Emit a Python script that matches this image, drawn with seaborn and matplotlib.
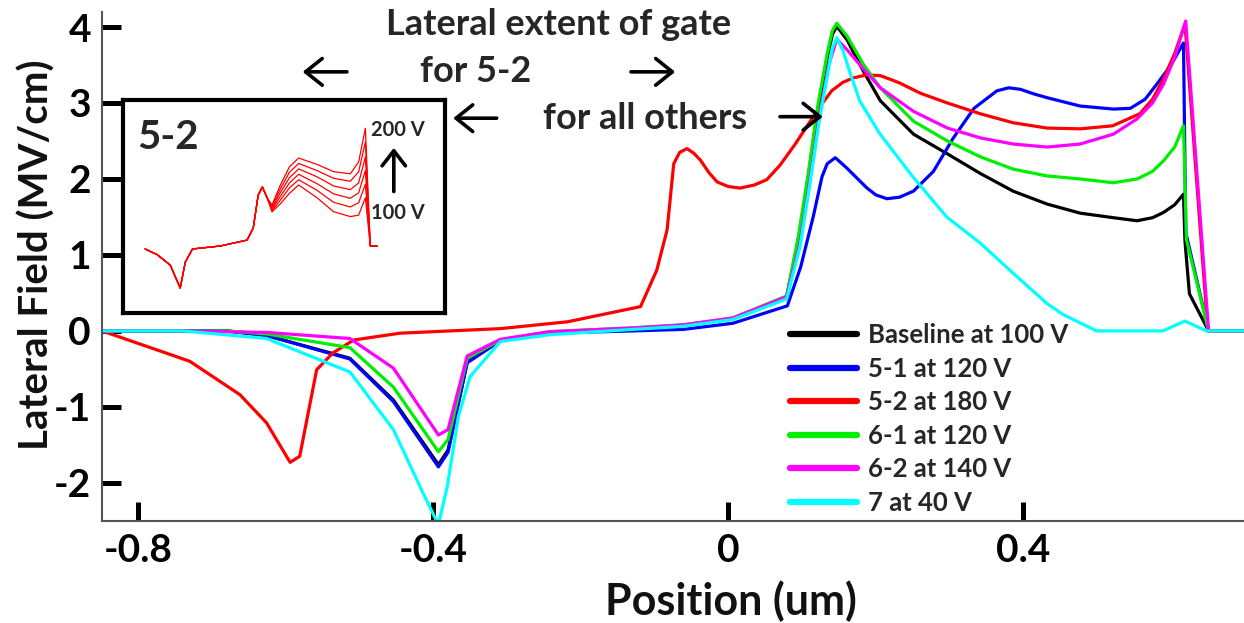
import numpy as np
import pandas as pd
import matplotlib
matplotlib.use("Agg")
import matplotlib.pyplot as plt
import seaborn as sns

# ---------------- data ----------------
series_names = ["Baseline at 100 V", "5-1 at 120 V", "5-2 at 180 V",
                "6-1 at 120 V", "6-2 at 140 V", "7 at 40 V"]
series_colors = ["#000000", "#0000ff", "#ff0000", "#00ee00", "#ff00ff", "#00ffff"]

baseline_x = [-0.849, -0.68, -0.626, -0.513, -0.454, -0.393, -0.380, -0.354, -0.309,
              -0.242, -0.129, -0.061, 0.006, 0.079, 0.095, 0.108, 0.121, 0.134, 0.141,
              0.147, 0.161, 0.183, 0.206, 0.251, 0.297, 0.342, 0.386, 0.432, 0.477,
              0.522, 0.554, 0.575, 0.590, 0.605, 0.617, 0.619, 0.625, 0.651, 0.699]
baseline_y = [0.0, 0.0, -0.06, -0.36, -0.91, -1.76, -1.57, -0.41, -0.12,
              -0.02, 0.03, 0.07, 0.16, 0.45, 1.2, 2.0, 2.9, 3.6, 3.9,
              4.01, 3.83, 3.42, 3.03, 2.59, 2.33, 2.07, 1.84, 1.67, 1.55,
              1.49, 1.45, 1.49, 1.56, 1.66, 1.80, 1.18, 0.49, 0.0, 0.0]

s51_x = [-0.849, -0.68, -0.626, -0.513, -0.454, -0.393, -0.380, -0.354, -0.309,
         -0.242, -0.129, -0.061, 0.006, 0.080, 0.098, 0.115, 0.127, 0.134, 0.145,
         0.161, 0.188, 0.200, 0.215, 0.232, 0.251, 0.278, 0.305, 0.333, 0.364,
         0.380, 0.396, 0.414, 0.432, 0.477, 0.522, 0.545, 0.565, 0.581, 0.600,
         0.617, 0.620, 0.651, 0.699]
s51_y = [0.0, 0.0, -0.06, -0.37, -0.93, -1.79, -1.60, -0.42, -0.13,
         -0.03, 0.0, 0.02, 0.10, 0.33, 0.84, 1.50, 2.03, 2.20, 2.28,
         2.14, 1.88, 1.79, 1.74, 1.76, 1.84, 2.10, 2.54, 2.93, 3.16,
         3.20, 3.18, 3.12, 3.07, 2.96, 2.92, 2.93, 3.05, 3.25, 3.50,
         3.79, 1.30, 0.0, 0.0]

s52_x = [-0.849, -0.730, -0.662, -0.626, -0.594, -0.581, -0.558, -0.536, -0.508,
         -0.445, -0.309, -0.218, -0.119, -0.097, -0.083, -0.074, -0.066, -0.056,
         -0.047, -0.038, -0.026, -0.015, 0.000, 0.016, 0.035, 0.052, 0.070, 0.090,
         0.107, 0.124, 0.140, 0.155, 0.169, 0.188, 0.206, 0.220, 0.233, 0.260,
         0.297, 0.341, 0.386, 0.432, 0.477, 0.521, 0.558, 0.575, 0.589, 0.605,
         0.619, 0.650, 0.699]
s52_y = [0.0, -0.40, -0.84, -1.21, -1.73, -1.65, -0.51, -0.29, -0.12,
         -0.03, 0.03, 0.12, 0.32, 0.80, 1.33, 2.20, 2.35, 2.40,
         2.34, 2.25, 2.08, 1.96, 1.90, 1.88, 1.92, 1.99, 2.18, 2.45,
         2.70, 2.95, 3.16, 3.27, 3.33, 3.37, 3.36, 3.31, 3.26, 3.13,
         3.00, 2.86, 2.74, 2.67, 2.66, 2.70, 2.86, 3.05, 3.30, 3.65,
         4.04, 0.0, 0.0]

s61_x = [-0.849, -0.68, -0.626, -0.513, -0.454, -0.393, -0.380, -0.354, -0.309,
         -0.242, -0.129, -0.061, 0.006, 0.079, 0.095, 0.108, 0.121, 0.134, 0.141,
         0.147, 0.161, 0.183, 0.206, 0.251, 0.297, 0.342, 0.386, 0.432, 0.477,
         0.522, 0.554, 0.575, 0.590, 0.605, 0.617, 0.621, 0.651, 0.699]
s61_y = [0.0, 0.0, -0.04, -0.22, -0.74, -1.59, -1.43, -0.36, -0.12,
         -0.01, 0.04, 0.08, 0.17, 0.46, 1.25, 2.05, 2.95, 3.65, 3.95,
         4.05, 3.88, 3.51, 3.20, 2.76, 2.50, 2.29, 2.13, 2.04, 2.00,
         1.95, 2.00, 2.10, 2.24, 2.42, 2.70, 1.20, 0.0, 0.0]

s62_x = [-0.849, -0.74, -0.626, -0.513, -0.454, -0.393, -0.380, -0.354, -0.309,
         -0.242, -0.129, -0.061, 0.006, 0.079, 0.097, 0.110, 0.123, 0.136, 0.147,
         0.161, 0.183, 0.206, 0.251, 0.297, 0.342, 0.386, 0.432, 0.477, 0.522,
         0.554, 0.575, 0.590, 0.605, 0.620, 0.651, 0.699]
s62_y = [0.0, 0.0, -0.02, -0.10, -0.49, -1.37, -1.30, -0.33, -0.11,
         -0.01, 0.04, 0.08, 0.17, 0.45, 1.15, 1.95, 2.80, 3.50, 3.84,
         3.70, 3.45, 3.20, 2.89, 2.67, 2.54, 2.46, 2.42, 2.46, 2.59,
         2.79, 3.00, 3.25, 3.60, 4.08, 0.0, 0.0]

s7_x = [-0.849, -0.74, -0.626, -0.513, -0.454, -0.414, -0.393, -0.381, -0.366,
        -0.350, -0.309, -0.242, -0.129, -0.061, 0.006, 0.079, 0.097, 0.110, 0.123,
        0.136, 0.141, 0.147, 0.155, 0.165, 0.178, 0.205, 0.250, 0.296, 0.341, 0.386,
        0.432, 0.453, 0.499, 0.589, 0.619, 0.648, 0.699]
s7_y = [0.0, 0.0, -0.10, -0.54, -1.30, -2.13, -2.55, -2.05, -1.13,
        -0.60, -0.14, -0.05, 0.02, 0.06, 0.15, 0.42, 1.10, 1.90, 2.75,
        3.45, 3.72, 3.86, 3.70, 3.40, 3.03, 2.60, 2.03, 1.50, 1.16, 0.76,
        0.36, 0.22, 0.0, 0.0, 0.13, 0.0, 0.0]

# inset: 5-2 swept from 100 V to 200 V
inset_common_x = [-0.818, -0.740, -0.655, -0.590, -0.557, -0.510, -0.330, -0.155, -0.115,
                  -0.083, -0.056, -0.024]
inset_common_y = [-0.12, -0.35, -0.77, -1.70, -0.65, -0.12, 0.0, 0.24, 0.73,
                  2.06, 2.39, 1.94]
inset_tail_x = [0.007, 0.060, 0.120, 0.180, 0.300, 0.407, 0.516, 0.570, 0.614, 0.646, 0.690]
inset_100V = [1.38, 1.70, 2.13, 2.47, 1.95, 1.39, 1.19, 1.25, 1.95, 0.0, 0.0]
inset_120V = [1.43, 1.85, 2.35, 2.68, 2.25, 1.77, 1.58, 1.75, 2.50, 0.0, 0.0]
inset_140V = [1.49, 2.00, 2.55, 2.90, 2.52, 2.11, 1.93, 2.15, 3.05, 0.0, 0.0]
inset_160V = [1.55, 2.15, 2.76, 3.12, 2.80, 2.43, 2.28, 2.55, 3.60, 0.0, 0.0]
inset_180V = [1.60, 2.30, 2.98, 3.34, 3.05, 2.74, 2.62, 3.00, 4.20, 0.0, 0.0]
inset_200V = [1.66, 2.45, 3.20, 3.56, 3.30, 3.01, 2.92, 3.40, 4.76, 0.0, 0.0]
inset_voltages = ["100 V", "120 V", "140 V", "160 V", "180 V", "200 V"]

x_ticks = [-0.8, -0.4, 0.0, 0.4]
x_tick_labels = ["-0.8", "-0.4", "0", "0.4"]
y_ticks = [-2, -1, 0, 1, 2, 3, 4]
y_tick_labels = ["-2", "-1", "0", "1", "2", "3", "4"]

# ---------------- build long-form tables ----------------
xs = [baseline_x, s51_x, s52_x, s61_x, s62_x, s7_x]
ys = [baseline_y, s51_y, s52_y, s61_y, s62_y, s7_y]
frames = []
for name, x, y in zip(series_names, xs, ys):
    frames.append(pd.DataFrame({"Position": x, "Field": y, "series": name}))
df = pd.concat(frames, ignore_index=True)

inset_frames = []
for v, tail in zip(inset_voltages,
                   [inset_100V, inset_120V, inset_140V, inset_160V, inset_180V, inset_200V]):
    inset_frames.append(pd.DataFrame({"Position": inset_common_x + inset_tail_x,
                                      "Field": inset_common_y + tail, "V": v}))
dfi = pd.concat(inset_frames, ignore_index=True)

# ---------------- style ----------------
sns.set_theme(style="white")
plt.rcParams["font.family"] = ["Lato", "DejaVu Sans"]
plt.rcParams["font.weight"] = "bold"
plt.rcParams["axes.unicode_minus"] = False

fig = plt.figure(figsize=(12.44, 6.23), dpi=100)
ax = fig.add_axes([0.082, 0.164, 0.918, 0.817])

sns.lineplot(data=df, x="Position", y="Field", hue="series", hue_order=series_names,
             palette=dict(zip(series_names, series_colors)), sort=False,
             estimator=None, linewidth=2.3, ax=ax)

ax.set_xlim(-0.849, 0.699)
ax.set_ylim(-2.5, 4.2)
ax.set_xticks(x_ticks)
ax.set_xticklabels(x_tick_labels)
ax.set_yticks(y_ticks)
ax.set_yticklabels(y_tick_labels)
ax.tick_params(axis="both", which="major", bottom=True, left=True, top=False, right=False,
               direction="in", length=14, width=3.6, color="black",
               labelsize=28, labelcolor="black")
ax.tick_params(axis="x", pad=9)
ax.tick_params(axis="y", pad=8)
for lbl in ax.get_xticklabels() + ax.get_yticklabels():
    lbl.set_fontweight("bold")
for s in ["top", "right"]:
    ax.spines[s].set_visible(False)
for s in ["left", "bottom"]:
    ax.spines[s].set_color("#555555")
    ax.spines[s].set_linewidth(1.5)

ax.set_xlabel("Position (um)", fontsize=31, fontweight="bold", color="#111111")
ax.xaxis.label.set_va("baseline")
ax.xaxis.set_label_coords(0.551, -0.185)
ax.set_ylabel("Lateral Field (MV/cm)", fontsize=29, fontweight="bold", color="#111111")
ax.yaxis.label.set_va("baseline")
ax.yaxis.set_label_coords(-0.047, 0.522)

# legend
handles, labels = ax.get_legend_handles_labels()
leg = ax.legend(handles, labels, loc="upper left", bbox_to_anchor=(0.6025, 0.3885),
                frameon=False, fontsize=18.5, handlelength=2.6, handletextpad=0.43,
                labelspacing=0.37, borderpad=0, borderaxespad=0)
for t in leg.get_texts():
    t.set_fontweight("bold")
for ln in leg.get_lines():
    ln.set_linewidth(4.5)

# annotations about the gate extent
ax.text(-0.23, 4.03, "Lateral extent of gate", ha="center", va="center",
        fontsize=26, fontweight="bold")
ax.text(-0.343, 3.41, "for 5-2", ha="center", va="center", fontsize=26, fontweight="bold")
ax.text(-0.113, 2.80, "for all others", ha="center", va="center", fontsize=26,
        fontweight="bold")
arrow_kw = dict(arrowstyle="->,head_length=1.0,head_width=0.8", lw=2.6, color="black",
                shrinkA=0, shrinkB=0)
ax.annotate("", xy=(-0.577, 3.41), xytext=(-0.517, 3.41), arrowprops=arrow_kw)
ax.annotate("", xy=(-0.072, 3.41), xytext=(-0.132, 3.41), arrowprops=arrow_kw)
ax.annotate("", xy=(-0.373, 2.80), xytext=(-0.314, 2.80), arrowprops=arrow_kw)
ax.annotate("", xy=(0.128, 2.82), xytext=(0.070, 2.82), arrowprops=arrow_kw)

# inset
axi = fig.add_axes([0.099, 0.4976, 0.259, 0.342])
sns.lineplot(data=dfi, x="Position", y="Field", units="V", estimator=None, sort=False,
             color="#ff0000", linewidth=0.9, ax=axi, legend=False)
axi.set_xlim(-0.961, 1.134)
axi.set_ylim(-2.71, 5.91)
axi.set_xticks([])
axi.set_yticks([])
axi.set_xlabel("")
axi.set_ylabel("")
for s in axi.spines.values():
    s.set_visible(True)
    s.set_color("black")
    s.set_linewidth(3)
axi.text(0.14, 0.826, "5-2", transform=axi.transAxes, ha="center", va="center",
         fontsize=29, fontweight="bold")
axi.text(0.854, 0.859, "200 V", transform=axi.transAxes, ha="center", va="center",
         fontsize=14.5, fontweight="bold")
axi.text(0.854, 0.47, "100 V", transform=axi.transAxes, ha="center", va="center",
         fontsize=14.5, fontweight="bold")
axi.annotate("", xy=(0.84, 0.775), xytext=(0.84, 0.57), xycoords="axes fraction",
             arrowprops=dict(arrowstyle="->,head_length=0.9,head_width=0.7", lw=2.6,
                             color="black", shrinkA=0, shrinkB=0))

fig.savefig("out.png", dpi=100)
